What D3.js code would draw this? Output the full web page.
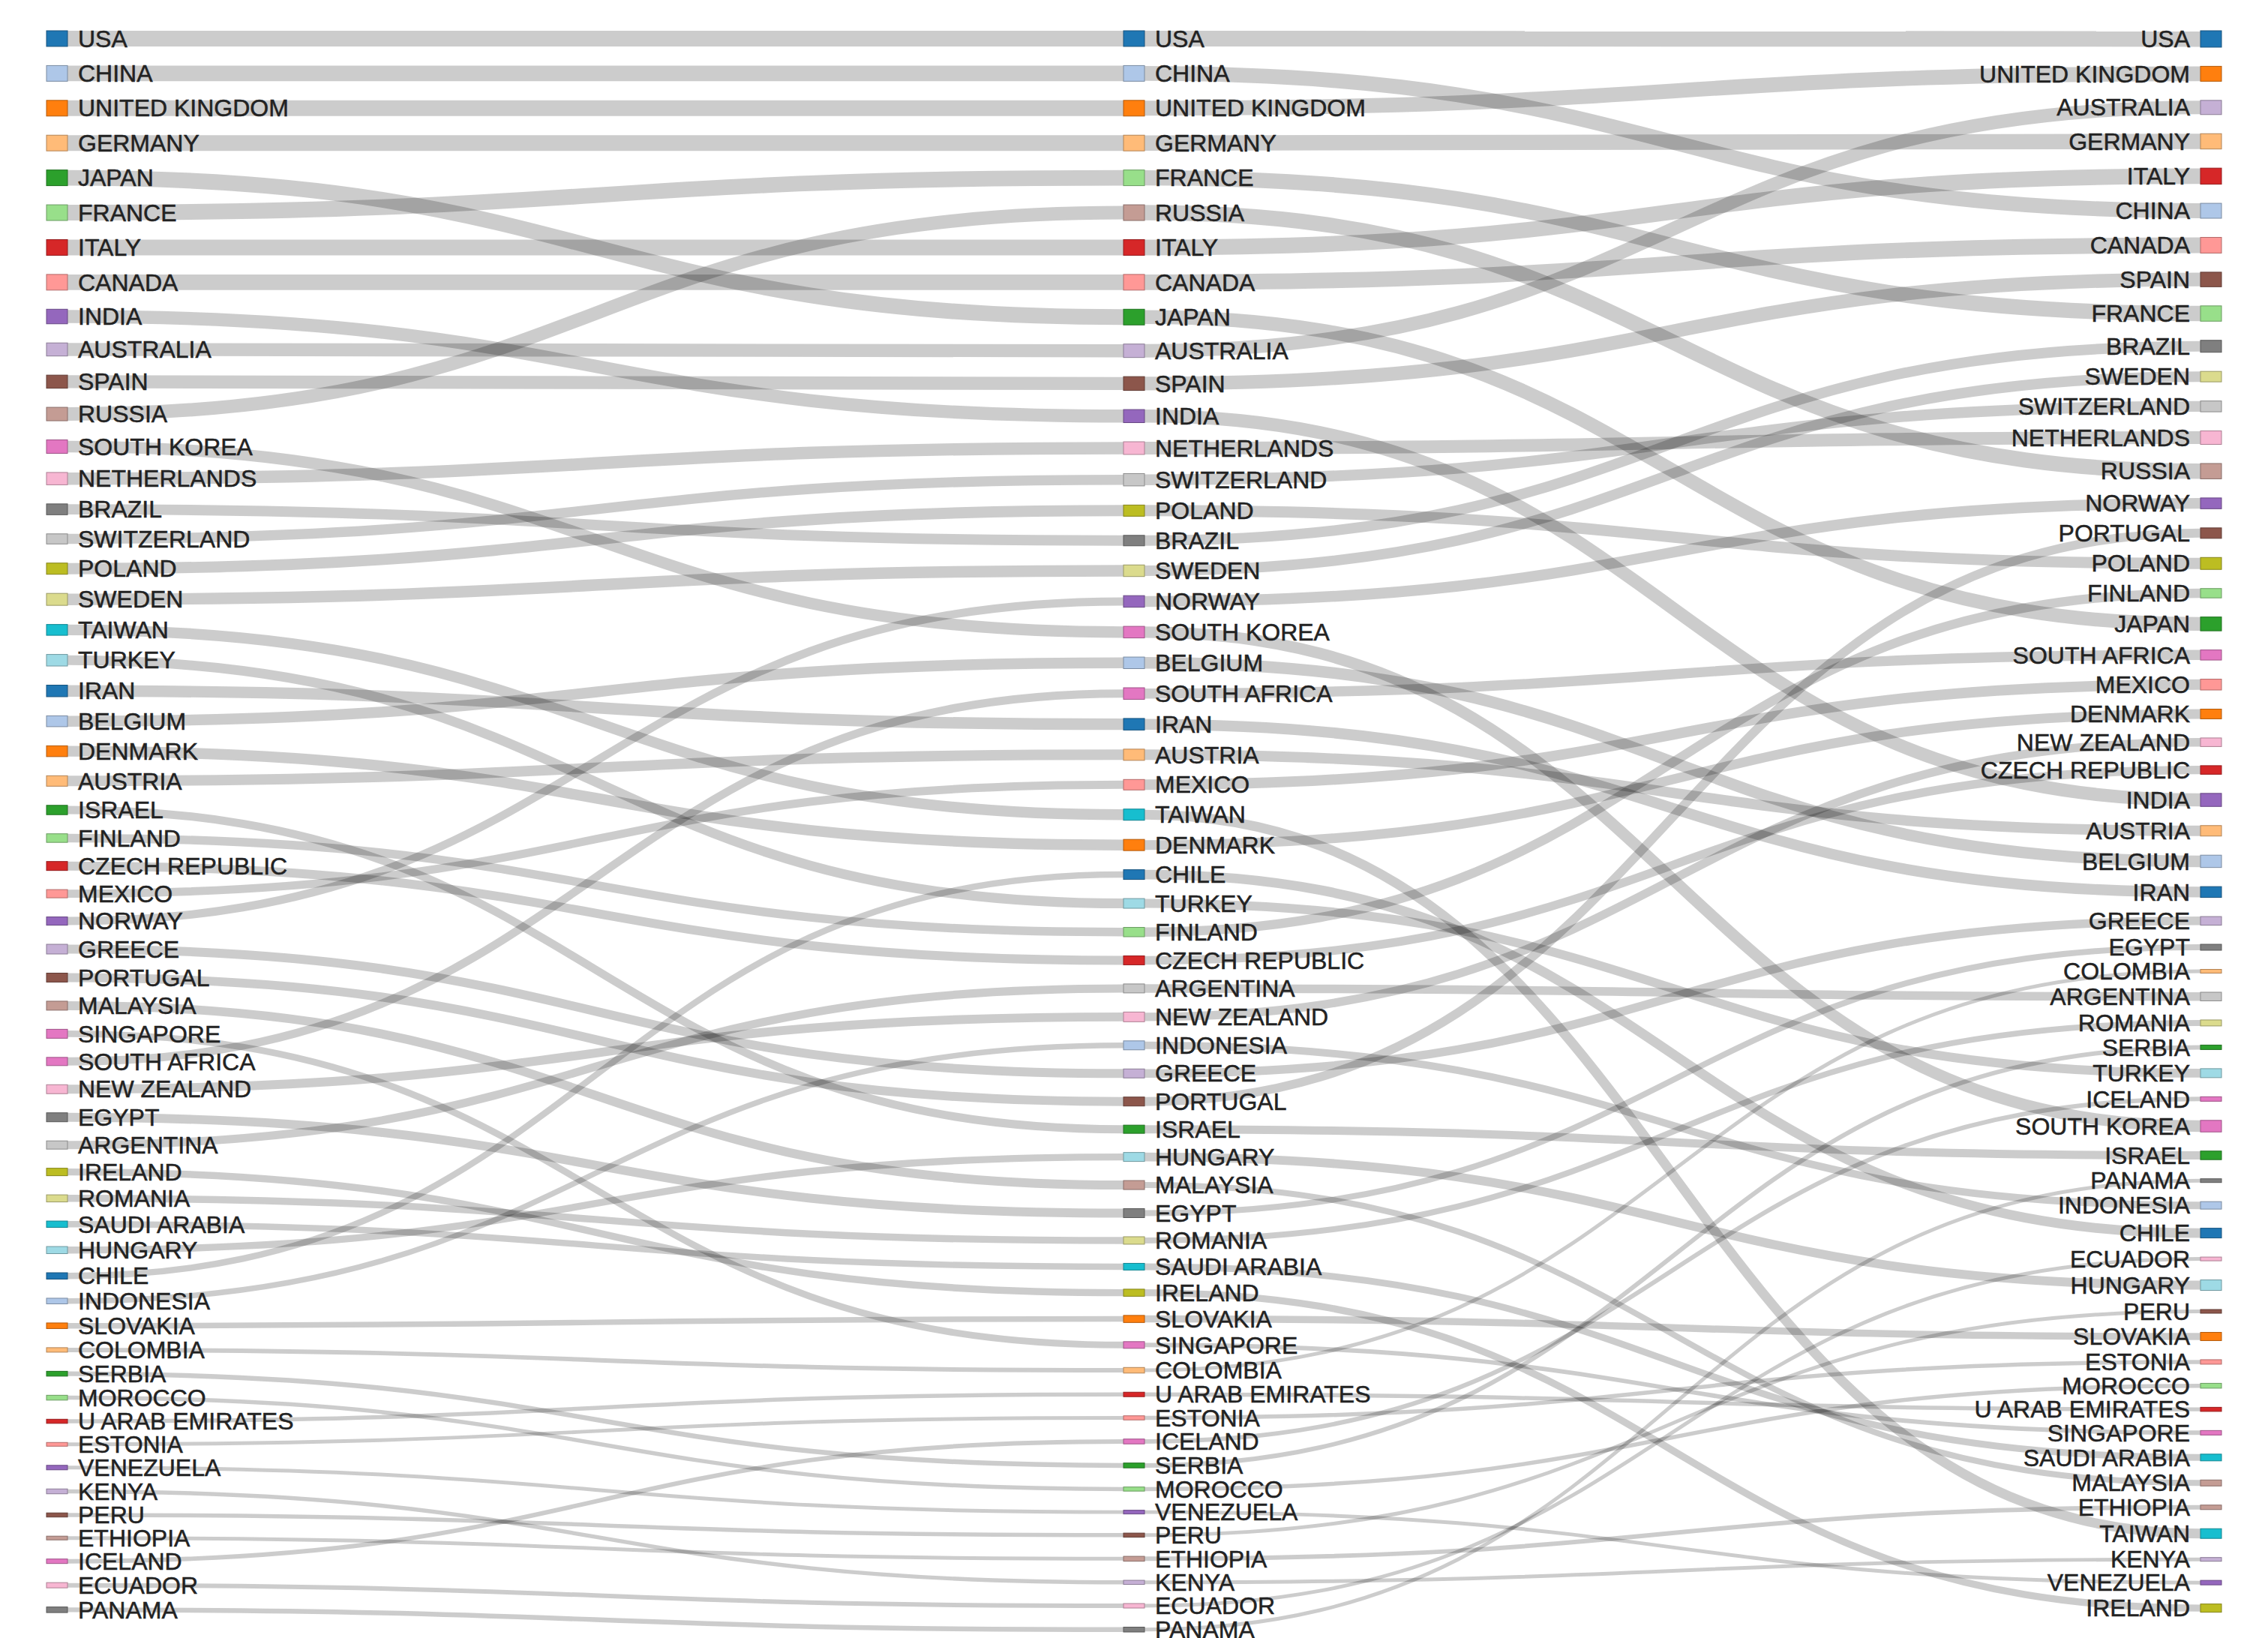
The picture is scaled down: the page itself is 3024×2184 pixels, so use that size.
<!DOCTYPE html>
<html>
<head>
<meta charset="utf-8">
<script src="https://cdn.jsdelivr.net/npm/d3@7"></script>
<style>
  body { margin: 0; background: #fff; }
  text { font-family: "Liberation Sans", Arial, sans-serif; }
</style>
</head>
<body>
<div id="central-container"></div>
<script>
// set the dimensions and margins of the graph
const width = 3024
const height = 2184
const margin = {left: 62, right: 62, top: 41, bottom: 8}
const nodeWidth = 28
const nodePadding = 25.5

// d3 v3/v4 category20 palette
const category20 = ["#1f77b4", "#aec7e8", "#ff7f0e", "#ffbb78", "#2ca02c", "#98df8a", "#d62728", "#ff9896", "#9467bd", "#c5b0d5",
  "#8c564b", "#c49c94", "#e377c2", "#f7b6d2", "#7f7f7f", "#c7c7c7", "#bcbd22", "#dbdb8d", "#17becf", "#9edae5"]

// order in which countries pick up a colour
const colorOrder = ["USA", "CHINA", "UNITED KINGDOM", "GERMANY", "JAPAN", "FRANCE", "ITALY", "CANADA", "INDIA", "AUSTRALIA",
  "SPAIN", "RUSSIA", "SOUTH KOREA", "NETHERLANDS", "BRAZIL", "SWITZERLAND", "POLAND", "SWEDEN", "TAIWAN", "TURKEY",
  "IRAN", "BELGIUM", "DENMARK", "AUSTRIA", "ISRAEL", "FINLAND", "CZECH REPUBLIC", "MEXICO", "NORWAY", "GREECE",
  "PORTUGAL", "MALAYSIA", "SINGAPORE", "NEW ZEALAND", "EGYPT", "ARGENTINA", "IRELAND", "ROMANIA", "SAUDI ARABIA", "HUNGARY",
  "CHILE", "INDONESIA", "SLOVAKIA", "COLOMBIA", "SERBIA", "MOROCCO", "U ARAB EMIRATES", "ESTONIA", "VENEZUELA", "KENYA",
  "PERU", "ETHIOPIA", "ICELAND", "ECUADOR", "PANAMA"]

// first column (ranking order) and values
const col1Names = ["USA", "CHINA", "UNITED KINGDOM", "GERMANY", "JAPAN", "FRANCE", "ITALY", "CANADA", "INDIA", "AUSTRALIA",
  "SPAIN", "RUSSIA", "SOUTH KOREA", "NETHERLANDS", "BRAZIL", "SWITZERLAND", "POLAND", "SWEDEN", "TAIWAN", "TURKEY",
  "IRAN", "BELGIUM", "DENMARK", "AUSTRIA", "ISRAEL", "FINLAND", "CZECH REPUBLIC", "MEXICO", "NORWAY", "GREECE",
  "PORTUGAL", "MALAYSIA", "SINGAPORE", "SOUTH AFRICA", "NEW ZEALAND", "EGYPT", "ARGENTINA", "IRELAND", "ROMANIA", "SAUDI ARABIA",
  "HUNGARY", "CHILE", "INDONESIA", "SLOVAKIA", "COLOMBIA", "SERBIA", "MOROCCO", "U ARAB EMIRATES", "ESTONIA", "VENEZUELA",
  "KENYA", "PERU", "ETHIOPIA", "ICELAND", "ECUADOR", "PANAMA"]
const col1Values = [21, 21, 21, 21, 21, 21, 21, 21, 19.5, 17.5,
  17.5, 18, 18, 16.5, 14.5, 13.5, 15, 16, 14.5, 15.5,
  15.5, 14.5, 14.5, 14, 12.5, 11.5, 12, 11, 11, 13,
  12, 12, 12, 11, 12, 12, 11, 10, 9.5, 8.5,
  9.5, 8.5, 7.5, 7.5, 6, 6.5, 6.5, 5.5, 5, 6,
  6.5, 5.5, 5, 6, 7, 7.5]

// second column
const col2Names = ["USA", "CHINA", "UNITED KINGDOM", "GERMANY", "FRANCE", "RUSSIA", "ITALY", "CANADA", "JAPAN", "AUSTRALIA",
  "SPAIN", "INDIA", "NETHERLANDS", "SWITZERLAND", "POLAND", "BRAZIL", "SWEDEN", "NORWAY", "SOUTH KOREA", "BELGIUM",
  "SOUTH AFRICA", "IRAN", "AUSTRIA", "MEXICO", "TAIWAN", "DENMARK", "CHILE", "TURKEY", "FINLAND", "CZECH REPUBLIC",
  "ARGENTINA", "NEW ZEALAND", "INDONESIA", "GREECE", "PORTUGAL", "ISRAEL", "HUNGARY", "MALAYSIA", "EGYPT", "ROMANIA",
  "SAUDI ARABIA", "IRELAND", "SLOVAKIA", "SINGAPORE", "COLOMBIA", "U ARAB EMIRATES", "ESTONIA", "ICELAND", "SERBIA", "MOROCCO",
  "VENEZUELA", "PERU", "ETHIOPIA", "KENYA", "ECUADOR", "PANAMA"]
const col2Values = [21, 21, 21, 21, 21, 21, 21, 21, 21, 18,
  18.5, 17.5, 17, 16.5, 15, 14, 15.5, 15.5, 15.5, 15.5,
  15.5, 15.5, 15, 14, 15, 15, 13, 13, 12.5, 12,
  12, 13, 12, 12, 12, 11, 12, 12, 12, 10,
  9, 9.5, 9.5, 9, 7.5, 6, 5.5, 6.5, 6.5, 5.5,
  5, 5.5, 6.5, 5.5, 6, 6.5]

// third column
const col3Names = ["USA", "UNITED KINGDOM", "AUSTRALIA", "GERMANY", "ITALY", "CHINA", "CANADA", "SPAIN", "FRANCE", "BRAZIL",
  "SWEDEN", "SWITZERLAND", "NETHERLANDS", "RUSSIA", "NORWAY", "PORTUGAL", "POLAND", "FINLAND", "JAPAN", "SOUTH AFRICA",
  "MEXICO", "DENMARK", "NEW ZEALAND", "CZECH REPUBLIC", "INDIA", "AUSTRIA", "BELGIUM", "IRAN", "GREECE", "EGYPT",
  "COLOMBIA", "ARGENTINA", "ROMANIA", "SERBIA", "TURKEY", "ICELAND", "SOUTH KOREA", "ISRAEL", "PANAMA", "INDONESIA",
  "CHILE", "ECUADOR", "HUNGARY", "PERU", "SLOVAKIA", "ESTONIA", "MOROCCO", "U ARAB EMIRATES", "SINGAPORE", "SAUDI ARABIA",
  "MALAYSIA", "ETHIOPIA", "TAIWAN", "KENYA", "VENEZUELA", "IRELAND"]
const col3Values = [22, 20, 19, 20.5, 21.5, 20, 21, 19.5, 20.5, 16,
  14, 14.5, 18, 20.5, 14.5, 14, 16, 12.5, 18.5, 13.5,
  14.5, 13, 11.5, 11.5, 17.5, 14, 16.5, 14.5, 11.5, 8,
  5, 11.5, 8, 6, 12, 6, 15.5, 11.5, 5, 10,
  13, 5, 14, 5, 11, 6, 6.5, 5.5, 6, 9,
  8, 6, 13, 5, 6, 11]

const columns = [
  {names: col1Names, values: col1Values, labelSide: "right"},
  {names: col2Names, values: col2Values, labelSide: "right"},
  {names: col3Names, values: col3Values, labelSide: "left"}
]

var color = d3.scaleOrdinal()
  .domain(colorOrder)
  .range(category20)

// south africa shares the pink of singapore in the original
var colorFor = function(name) {
  return name == "SOUTH AFRICA" ? color("SINGAPORE") : color(name)
}

var x = d3.scaleLinear()
  .domain([0, columns.length - 1])
  .range([margin.left, width - margin.right - nodeWidth])

// append the svg object to the body of the page
var svg = d3.select("#central-container")
  .append("svg")
  .attr("width", width)
  .attr("height", height)

// one vertical scale for all columns, fitted to the tallest column
var ky = d3.min(columns, function(c) {
  return (height - margin.top - margin.bottom - (c.names.length - 1) * nodePadding) / d3.sum(c.values)
})

var nodes = []
var nodeByKey = {}
columns.forEach(function(c, i) {
  var y = margin.top
  c.names.forEach(function(name, j) {
    var h = c.values[j] * ky
    var n = {name: name, col: i, side: c.labelSide, x0: x(i), x1: x(i) + nodeWidth, y0: y, y1: y + h}
    nodes.push(n)
    nodeByKey[i + "|" + name] = n
    y += h + nodePadding
  })
})

// links join the same country in neighbouring columns
var links = []
for (var i = 0; i < columns.length - 1; i++) {
  columns[i].names.forEach(function(name) {
    var s = nodeByKey[i + "|" + name]
    var t = nodeByKey[(i + 1) + "|" + name]
    links.push({source: s, target: t, width: Math.min(s.y1 - s.y0, t.y1 - t.y0)})
  })
}

var linkPath = d3.linkHorizontal()
  .source(function(d) { return [d.source.x1, (d.source.y0 + d.source.y1) / 2] })
  .target(function(d) { return [d.target.x0, (d.target.y0 + d.target.y1) / 2] })

svg.append("g")
  .attr("fill", "none")
  .attr("stroke", "#000")
  .attr("stroke-opacity", 0.2)
  .selectAll("path")
  .data(links)
  .enter().append("path")
    .attr("d", linkPath)
    .attr("stroke-width", function(d) { return Math.max(1, d.width) })

var node = svg.append("g")
  .selectAll("g")
  .data(nodes)
  .enter().append("g")

node.append("rect")
  .attr("x", function(d) { return d.x0 })
  .attr("y", function(d) { return d.y0 })
  .attr("width", nodeWidth)
  .attr("height", function(d) { return d.y1 - d.y0 })
  .style("fill", function(d) { return colorFor(d.name) })
  .style("stroke", function(d) { return d3.rgb(colorFor(d.name)).darker(1) })

node.append("text")
  .attr("x", function(d) { return d.side == "right" ? d.x1 + 14 : d.x0 - 14 })
  .attr("y", function(d) { return (d.y0 + d.y1) / 2 })
  .attr("dy", "0.35em")
  .attr("text-anchor", function(d) { return d.side == "right" ? "start" : "end" })
  .style("font-size", "32px")
  .style("fill", "#222")
  .style("stroke", "#222")
  .style("stroke-width", 0.5)
  .text(function(d) { return d.name })
</script>
</body>
</html>
